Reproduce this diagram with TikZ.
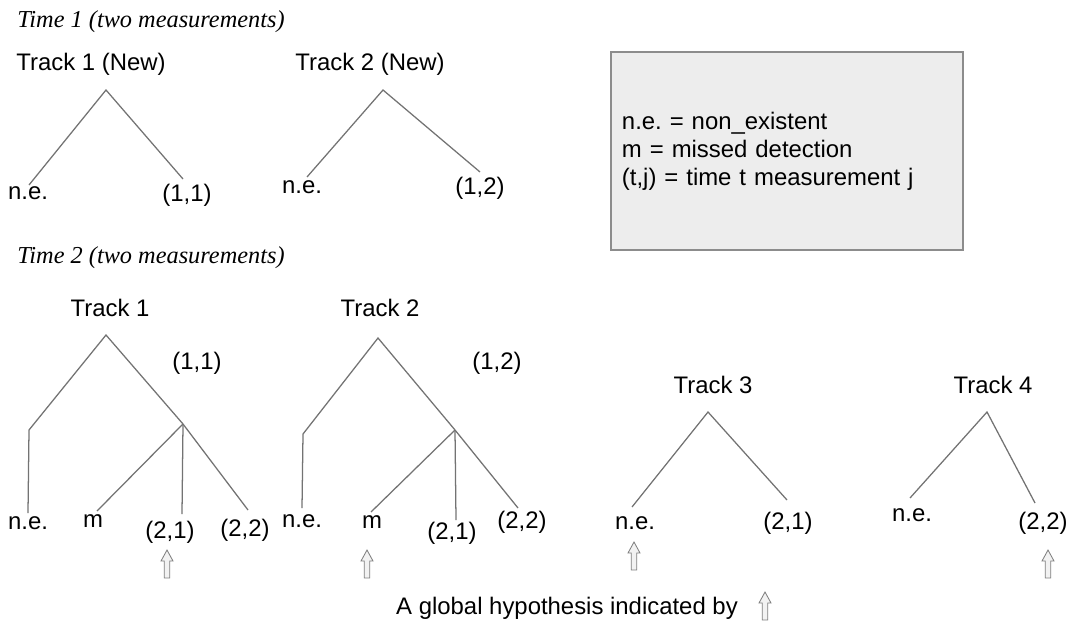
\documentclass[tikz,border=0pt]{standalone}
\usepackage{fontspec}
\setmainfont{Liberation Sans}
\newfontfamily\timefont{Liberation Serif}
\usetikzlibrary{positioning}
\frenchspacing

\tikzset{
	branch/.style={draw=black!55, line width=0.9pt},
	leaf/.style={font=\fontsize{17}{20}\selectfont, inner sep=0pt},
	heading/.style={font=\timefont\itshape\fontsize{17.3}{20}\selectfont, anchor=west, inner sep=0pt},
	legendbox/.style={draw=black!45, fill=black!7, line width=0.9pt, minimum width=8.8cm, minimum height=4.95cm, inner xsep=0.275cm, text width=8.25cm, align=left, font=\fontsize{17}{19.8}\selectfont},
	hyparrow/.pic={\draw[draw=black!50, fill=black!5, line width=0.6pt] (0,0) -- (6,11) -- (2.8,11) -- (2.8,28) -- (-2.8,28) -- (-2.8,11) -- (-6,11) -- cycle;}
}

\begin{document}
\begin{tikzpicture}[x=0.025cm, y=-0.025cm]
		\useasboundingbox (0,0) rectangle (1075,623);
		
		% Time 1
		\node[heading] (time1) at (17,22) {Time 1 (two measurements)};
		
		\node[leaf] (t1new) at (91,64) {Track 1 (New)};
		\coordinate (t1newtop) at (106,90);
		\coordinate (t1newL) at (29,185);
		\coordinate (t1newR) at (183,179);
		\node[leaf] (t1newne) at (28,193) {n.e.};
		\node[leaf] (t1new11) at (187,195) {(1,1)};
		\draw[branch] (t1newL)--(t1newtop)--(t1newR);
		
		\node[leaf] (t2new) at (370,64) {Track 2 (New)};
		\coordinate (t2newtop) at (383,90);
		\coordinate (t2newL) at (307,177);
		\coordinate (t2newR) at (480,172);
		\node[leaf] (t2newne) at (302,187) {n.e.};
		\node[leaf] (t2new12) at (480,188) {(1,2)};
		\draw[branch] (t2newL)--(t2newtop)--(t2newR);
		
		\node[legendbox] (legend) at (787,151) {n.e. = non\_existent\\m = missed detection\\(t,j) = time t measurement j};
		
		% Time 2
		\node[heading] (time2) at (17,258) {Time 2 (two measurements)};
		
		% Track 1
		\node[leaf] (t1) at (110,308) {Track 1};
		\coordinate (t1top) at (106,335);
		\coordinate (t1bend) at (29,430);
		\coordinate (t1ne) at (28,513);
		\coordinate (t1mid) at (183,424);
		\coordinate (t1m) at (97,511);
		\coordinate (t1a) at (182,514);
		\coordinate (t1b) at (248,510);
		\node[leaf] (t1lbl) at (197,363) {(1,1)};
		\node[leaf] (t1nelbl) at (28,523) {n.e.};
		\node[leaf] (t1mlbl) at (93,521) {m};
		\node[leaf] (t1albl) at (170,532) {(2,1)};
		\node[leaf] (t1blbl) at (245,530) {(2,2)};
		\draw[branch] (t1ne)--(t1bend)--(t1top)--(t1mid);
		\draw[branch] (t1mid)--(t1m);
		\draw[branch] (t1mid)--(t1a);
		\draw[branch] (t1mid)--(t1b);
		\pic at (167,550) {hyparrow};
		
		% Track 2
		\node[leaf] (t2) at (380,308) {Track 2};
		\coordinate (t2top) at (378,338);
		\coordinate (t2bend) at (303,434);
		\coordinate (t2ne) at (302,508);
		\coordinate (t2mid) at (455,430);
		\coordinate (t2m) at (371,512);
		\coordinate (t2a) at (456,520);
		\coordinate (t2b) at (518,508);
		\node[leaf] (t2lbl) at (497,363) {(1,2)};
		\node[leaf] (t2nelbl) at (302,521) {n.e.};
		\node[leaf] (t2mlbl) at (372,522) {m};
		\node[leaf] (t2albl) at (452,533) {(2,1)};
		\node[leaf] (t2blbl) at (522,522) {(2,2)};
		\draw[branch] (t2ne)--(t2bend)--(t2top)--(t2mid);
		\draw[branch] (t2mid)--(t2m);
		\draw[branch] (t2mid)--(t2a);
		\draw[branch] (t2mid)--(t2b);
		\pic at (367,550) {hyparrow};
		
		% Track 3
		\node[leaf] (t3) at (713,385) {Track 3};
		\coordinate (t3top) at (708,412);
		\coordinate (t3L) at (632,507);
		\coordinate (t3R) at (787,500);
		\node[leaf] (t3nelbl) at (635,523) {n.e.};
		\node[leaf] (t3albl) at (788,523) {(2,1)};
		\draw[branch] (t3L)--(t3top)--(t3R);
		\pic at (634,542) {hyparrow};
		
		% Track 4
		\node[leaf] (t4) at (993,385) {Track 4};
		\coordinate (t4top) at (987,412);
		\coordinate (t4L) at (910,498);
		\coordinate (t4R) at (1035,503);
		\node[leaf] (t4nelbl) at (912,515) {n.e.};
		\node[leaf] (t4blbl) at (1043,523) {(2,2)};
		\draw[branch] (t4L)--(t4top)--(t4R);
		\pic at (1048,550) {hyparrow};
		
		\node[leaf] (caption) at (567,608) {A global hypothesis indicated by};
		\pic at (765,592) {hyparrow};
\end{tikzpicture}
\end{document}
